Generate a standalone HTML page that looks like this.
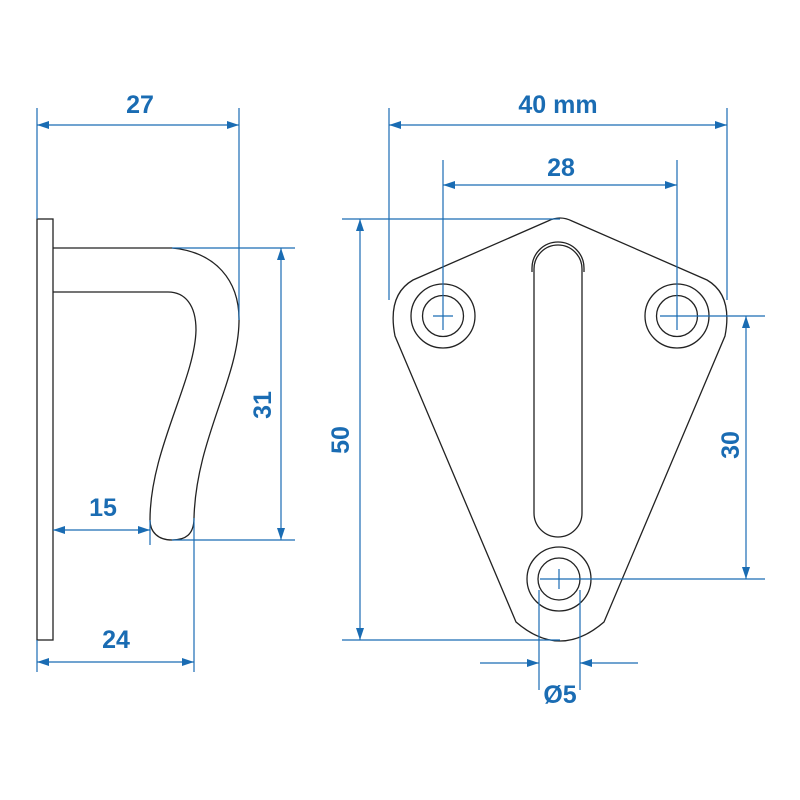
<!DOCTYPE html>
<html><head><style>html,body{margin:0;padding:0;background:#fff}svg{display:block}</style></head><body>
<svg width="800" height="800" viewBox="0 0 800 800" xmlns="http://www.w3.org/2000/svg">
<defs>
<marker id="a" viewBox="0 0 12 8" refX="12" refY="4" markerWidth="12" markerHeight="8" markerUnits="userSpaceOnUse" orient="auto-start-reverse"><path d="M0,0 L12,4 L0,8 Z" fill="#1a6cb3"/></marker>
</defs>
<g fill="none" stroke="#222" stroke-width="1.3">
<rect x="37" y="219" width="16" height="421"/>
<path d="M53,248 L172,248 C215,252 240,280 239,322 C238,380 196,440 194,518 C194,535 185,540 172,540 C158,540 150,532 150,520 C150,450 195,380 196,330 C196,305 185,292 168,292 L53,292"/>
<path d="M548,221 Q560,215 572,221 L707,280 Q733,295 725,336 L604,622 Q560,660 516,622 L395,336 Q387,295 413,280 Z"/>
<circle cx="443" cy="316" r="32"/><circle cx="443" cy="316" r="20.5"/>
<circle cx="677" cy="316" r="32"/><circle cx="677" cy="316" r="20.5"/>
<circle cx="559" cy="579" r="32"/><circle cx="559" cy="579" r="21"/>
<rect x="534" y="245" width="48" height="292" rx="24"/>
<path d="M532,272 L532,268 A26,26 0 0 1 584,268 L584,272"/>
</g>
<g stroke="#1a6cb3" stroke-width="1.2" fill="none">
<path d="M37,108V219 M239,108V320 M172,248H295 M172,540H295 M150,520V545 M194,518V672 M37,640V672"/>
<line x1="37" y1="125" x2="239" y2="125" marker-start="url(#a)" marker-end="url(#a)"/>
<line x1="281" y1="248" x2="281" y2="540" marker-start="url(#a)" marker-end="url(#a)"/>
<line x1="53" y1="530" x2="150" y2="530" marker-start="url(#a)" marker-end="url(#a)"/>
<line x1="37" y1="662" x2="194" y2="662" marker-start="url(#a)" marker-end="url(#a)"/>
<path d="M389,108V300 M727,108V300 M443,160V330 M677,160V330 M342,219H560 M342,640H560 M660,316H765 M540,579H765 M539,590V690 M580,590V690 M433,316H453 M667,316H687 M549,579H569 M559,569V589"/>
<line x1="389" y1="125" x2="727" y2="125" marker-start="url(#a)" marker-end="url(#a)"/>
<line x1="443" y1="185" x2="677" y2="185" marker-start="url(#a)" marker-end="url(#a)"/>
<line x1="360" y1="219" x2="360" y2="640" marker-start="url(#a)" marker-end="url(#a)"/>
<line x1="746" y1="316" x2="746" y2="579" marker-start="url(#a)" marker-end="url(#a)"/>
<line x1="480" y1="663" x2="539" y2="663" marker-end="url(#a)"/>
<line x1="638" y1="663" x2="580" y2="663" marker-end="url(#a)"/>
</g>
<g fill="#1a6cb3" font-family="Liberation Sans, sans-serif" font-weight="bold" font-size="25" text-anchor="middle">
<text x="140" y="113">27</text>
<text x="103" y="516">15</text>
<text x="116" y="648">24</text>
<text x="558" y="113">40 mm</text>
<text x="561" y="176">28</text>
<text x="560" y="703">Ø5</text>
<text transform="translate(271,405) rotate(-90)">31</text>
<text transform="translate(349,440) rotate(-90)">50</text>
<text transform="translate(739,445) rotate(-90)">30</text>
</g>
</svg>
</body></html>
